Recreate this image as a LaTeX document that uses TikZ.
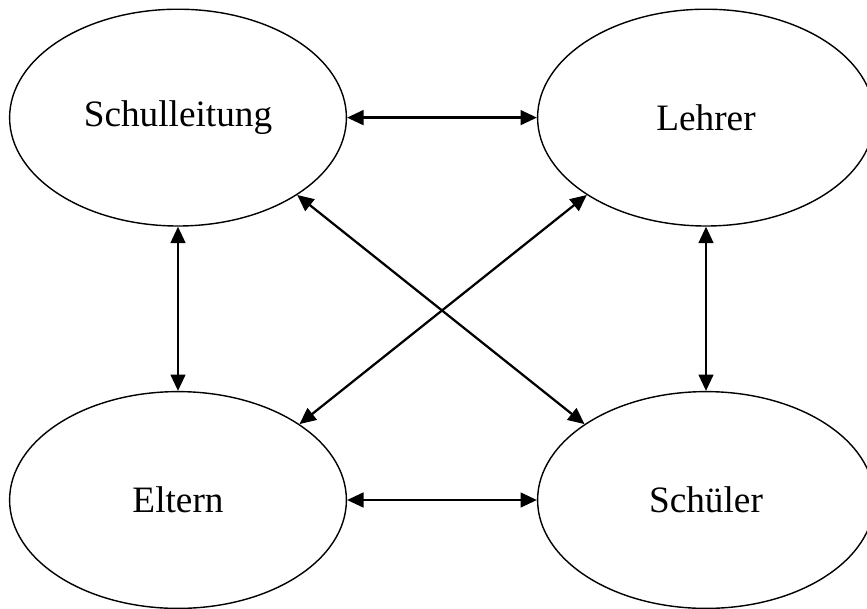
\documentclass[tikz,border=0pt]{standalone}
\usepackage{fontspec}
\setmainfont{Liberation Serif}
\usetikzlibrary{shapes.geometric,arrows.meta}

\begin{document}
\begin{tikzpicture}[
		role_style/.style={ellipse,draw=black,line width=1pt,inner sep=0pt,minimum width=8.42cm,minimum height=5.42cm,font=\fontsize{26.5}{30}\selectfont},
		edge_style/.style={draw=black,line width=1.6pt,{Triangle[length=4.1mm,width=3.7mm]}-{Triangle[length=4.1mm,width=3.7mm]}}]

		\useasboundingbox (0,0) rectangle (21.675,-15.2);

		\node[role_style] (sl) at (4.45,-2.94)  {Schulleitung};
		\node[role_style] (le) at (17.65,-2.94) {Lehrer};
		\node[role_style] (el) at (4.45,-12.5)  {Eltern};
		\node[role_style] (sc) at (17.65,-12.5) {Schüler};

		\draw[edge_style]  (sl) -- (le);
		\draw[edge_style]  (el) -- (sc);
		\draw[edge_style]  (sl) -- (el);
		\draw[edge_style]  (le) -- (sc);
		\draw[edge_style]  (sl.-33) -- (sc.148);
		\draw[edge_style]  (le.213) -- (el.32);
\end{tikzpicture}
\end{document}
